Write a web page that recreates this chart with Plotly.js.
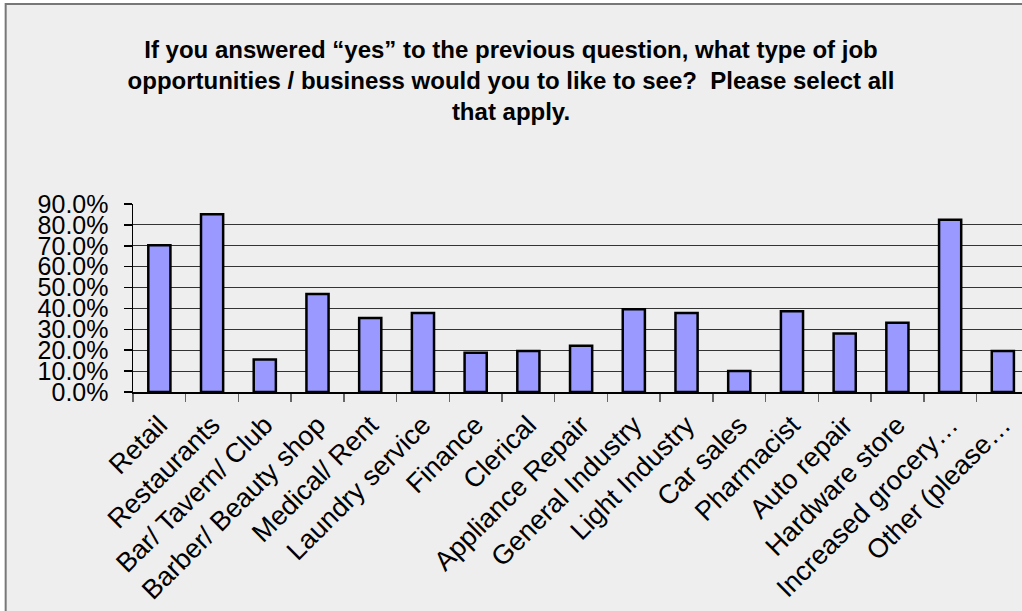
<!DOCTYPE html>
<html>
<head>
<meta charset="utf-8">
<script src="https://cdn.plot.ly/plotly-3.0.1.min.js"></script>
<style>html,body{margin:0;padding:0;background:#fff;}#chart{width:1022px;height:611px;}</style>
</head>
<body>
<div id="chart"></div>
<script>
const categories = ["Retail","Restaurants","Bar/ Tavern/ Club","Barber/ Beauty shop","Medical/ Rent","Laundry service","Finance","Clerical","Appliance Repair","General Industry","Light Industry","Car sales","Pharmacist","Auto repair","Hardware store","Increased grocery…","Other (please…"];
const values = [0.702, 0.851, 0.156, 0.469, 0.354, 0.378, 0.188, 0.196, 0.222, 0.396, 0.378, 0.100, 0.386, 0.280, 0.331, 0.825, 0.196];
const yTickValues = [0,0.1,0.2,0.3,0.4,0.5,0.6,0.7,0.8,0.9];
const titleText = "If you answered “yes” to the previous question, what type of job<br>opportunities / business would you to like to see?  Please select all<br>that apply.";

const L = 133.3, R = 1022, T = 203.7, B = 392.3, W = 1022, H = 611;
const pw = R - L, ph = B - T;
const unit = 52.7;
const xmax = -0.5 + pw / unit;

const trace = {
  type: 'bar',
  x: categories,
  y: values,
  marker: {color: '#9999ff', line: {color: '#000000', width: 2.5}},
  hoverinfo: 'skip'
};

const layout = {
  width: W, height: H,
  margin: {l: L, r: W - R, t: T, b: H - B, pad: 0},
  paper_bgcolor: '#ffffff',
  plot_bgcolor: 'rgba(0,0,0,0)',
  bargap: 0.58,
  showlegend: false,
  font: {family: 'Liberation Sans, Arial, sans-serif', color: '#000'},
  title: {
    text: titleText,
    font: {family: 'Liberation Sans, Arial, sans-serif', size: 24, color: '#000', weight: 'bold'},
    x: 0.5, xanchor: 'center', xref: 'container',
    y: 1 - 58 / H, yanchor: 'top', yref: 'container'
  },
  xaxis: {
    type: 'category',
    range: [-0.5, xmax],
    tickson: 'boundaries',
    ticks: 'outside', ticklen: 8, tickcolor: '#666', tickwidth: 1.5,
    showline: true, linecolor: '#000', linewidth: 1.5,
    showgrid: false, zeroline: false,
    tickangle: -45,
    ticklabelstandoff: 5,
    tickfont: {size: 27, family: 'Liberation Sans, Arial, sans-serif', color: '#000'},
    fixedrange: true
  },
  yaxis: {
    range: [0, 0.9],
    tickvals: yTickValues,
    tickformat: '.1%',
    ticks: 'outside', ticklen: 8, tickcolor: '#000', tickwidth: 1.5,
    showline: true, linecolor: '#000', linewidth: 1.5,
    showgrid: true, gridcolor: '#333', gridwidth: 1.2,
    zeroline: false,
    ticklabelstandoff: 10,
    tickfont: {size: 25, family: 'Liberation Sans, Arial, sans-serif', color: '#000'},
    fixedrange: true
  },
  shapes: [{
    type: 'rect', layer: 'below',
    xref: 'paper', yref: 'paper',
    x0: (6 - L) / pw, x1: (1040 - L) / pw,
    y0: (B - 640) / ph, y1: (B - 3) / ph,
    fillcolor: '#eeeeee',
    line: {color: '#777777', width: 2}
  }]
};

Plotly.newPlot('chart', [trace], layout, {displayModeBar: false, staticPlot: true});
</script>
</body>
</html>
